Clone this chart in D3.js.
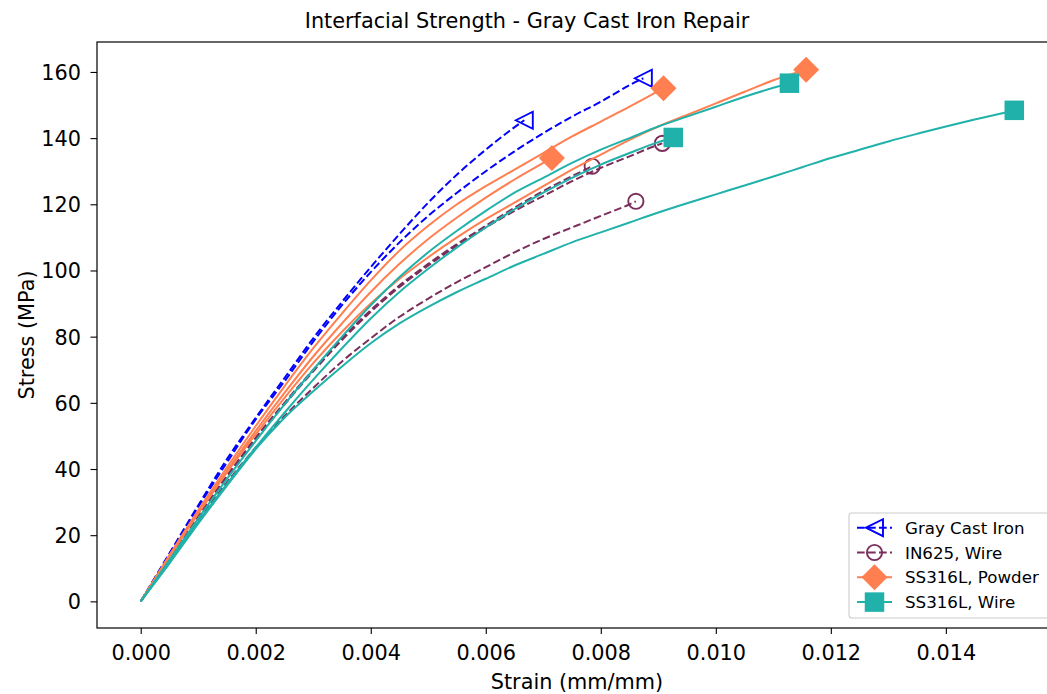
<!DOCTYPE html>
<html>
<head>
<meta charset="utf-8">
<script src="https://cdn.jsdelivr.net/npm/d3@7"></script>
<style>
  html, body { margin: 0; padding: 0; background: #fff; }
  svg { display: block; font-family: "DejaVu Sans", sans-serif; }
</style>
</head>
<body>
<svg id="chart" width="1047" height="694"></svg>
<script>
// ---------------- DATA (strain mm/mm, stress MPa) ----------------
const title = "Interfacial Strength - Gray Cast Iron Repair";
const xLabel = "Strain (mm/mm)";
const yLabel = "Stress (MPa)";
const xTicks = [0, 0.002, 0.004, 0.006, 0.008, 0.010, 0.012, 0.014];
const yTicks = [0, 20, 40, 60, 80, 100, 120, 140, 160];
const seriesNames = ["Gray Cast Iron", "IN625, Wire", "SS316L, Powder", "SS316L, Wire"];

// Gray Cast Iron
const grayCastIron1 = [[0,0],[0.0005,14.5],[0.001,29],[0.0015,43],[0.002,55.5],[0.0025,67.5],[0.003,79.5],[0.0035,90.5],[0.004,101],[0.0045,111],[0.005,120.5],[0.0055,129],[0.006,136.5],[0.0064,142],[0.00667,145.4]];
const grayCastIron2 = [[0,0],[0.0005,14.2],[0.001,28.5],[0.0015,42],[0.002,55],[0.0025,66.5],[0.003,78.5],[0.0035,89.5],[0.004,99.5],[0.0045,108.5],[0.005,116.5],[0.0055,123.5],[0.006,130],[0.0065,136],[0.007,141.5],[0.0075,146.5],[0.008,151],[0.0085,156],[0.00874,158.1]];

// IN625, Wire
const in625Wire1 = [[0,0],[0.0005,13],[0.001,26],[0.0015,38],[0.002,49.5],[0.0025,60],[0.003,70],[0.0035,79.5],[0.004,88],[0.0045,95.5],[0.005,102],[0.0055,108],[0.006,113.5],[0.0065,119],[0.007,124],[0.0075,128.5],[0.00785,131.5]];
const in625Wire2 = [[0,0],[0.0005,12.8],[0.001,25.5],[0.0015,37.5],[0.002,49],[0.0025,59.5],[0.003,69.5],[0.0035,79],[0.004,87.5],[0.0045,95],[0.005,101.5],[0.0055,107.5],[0.006,113],[0.0065,118],[0.007,122.5],[0.0075,127],[0.008,131],[0.0085,134.5],[0.009,138],[0.00907,138.4]];
const in625Wire3 = [[0,0],[0.0005,12.5],[0.001,24.5],[0.0015,36],[0.002,46.5],[0.0025,56],[0.003,64.5],[0.0035,72.5],[0.004,79.5],[0.0045,86],[0.005,91.5],[0.0055,96.5],[0.006,101],[0.0065,105.5],[0.007,109.5],[0.0075,113],[0.008,116.5],[0.0085,120],[0.00861,120.9]];

// SS316L, Powder
const ss316lPowder1 = [[0,0],[0.0005,13.5],[0.001,27],[0.0015,39.5],[0.002,51.5],[0.0025,63],[0.003,74],[0.0035,84],[0.004,93.5],[0.0045,102],[0.005,109.5],[0.0055,116],[0.006,122],[0.0065,127.5],[0.007,132.5],[0.00715,134]];
const ss316lPowder2 = [[0,0],[0.0005,14],[0.001,27.5],[0.0015,40.5],[0.002,53],[0.0025,65],[0.003,76.5],[0.0035,87],[0.004,97],[0.0045,106],[0.005,113.5],[0.0055,120],[0.006,125.5],[0.0065,130.5],[0.007,135.5],[0.0075,140.5],[0.008,145],[0.0085,149.5],[0.0088,152.3],[0.00909,155.1]];
const ss316lPowder3 = [[0,0],[0.0005,13.5],[0.001,26.5],[0.0015,39],[0.002,50.5],[0.0025,61.5],[0.003,72],[0.0035,81.5],[0.004,90],[0.0045,97.5],[0.005,104],[0.0055,110],[0.006,115.5],[0.0065,120.5],[0.007,125.5],[0.0075,130.5],[0.008,135],[0.0085,139.5],[0.009,143.5],[0.0095,147],[0.010,150.5],[0.0105,154],[0.011,157.5],[0.01157,160.7]];

// SS316L, Wire
const ss316lWire1 = [[0,0],[0.0005,12],[0.001,24],[0.0015,35.5],[0.002,46.5],[0.0025,57],[0.003,67],[0.0035,76.5],[0.004,85.5],[0.0045,93.5],[0.005,100.5],[0.0055,107],[0.006,113],[0.0065,118.5],[0.007,123.5],[0.0075,128],[0.008,132],[0.0085,135.5],[0.009,138.8],[0.00926,140.2]];
const ss316lWire2 = [[0,0],[0.0005,12.5],[0.001,25],[0.0015,37],[0.002,48.5],[0.0025,59.5],[0.003,70],[0.0035,80],[0.004,89.5],[0.0045,98],[0.005,105.5],[0.0055,112],[0.006,118],[0.0065,123.5],[0.007,128],[0.0075,132.5],[0.008,136.5],[0.0085,140],[0.009,143.5],[0.0095,146.5],[0.010,149.5],[0.0105,152.5],[0.011,155.2],[0.01128,156.6]];
const ss316lWire3 = [[0,0],[0.0005,11.5],[0.001,23.5],[0.0015,35],[0.002,46],[0.0025,55.5],[0.003,63.5],[0.0035,71],[0.004,78],[0.0045,84],[0.005,89],[0.0055,93.5],[0.006,97.5],[0.0065,101.5],[0.007,105],[0.0075,108.5],[0.008,111.5],[0.0085,114.5],[0.009,117.5],[0.0095,120.3],[0.010,123],[0.0105,125.7],[0.011,128.4],[0.0115,131.2],[0.012,134],[0.0125,136.5],[0.013,139],[0.0135,141.3],[0.014,143.5],[0.0145,145.6],[0.015,147.6],[0.01519,148.4]];

// ---------------- STYLE ----------------
const styles = {
  "Gray Cast Iron": {color: "#0000ff", dash: "7.7,3.3", marker: "triangleLeft"},
  "IN625, Wire":    {color: "#7b2d5b", dash: "7.7,3.3", marker: "circle"},
  "SS316L, Powder": {color: "#ff7f50", dash: null, marker: "diamond"},
  "SS316L, Wire":   {color: "#20b2aa", dash: null, marker: "square"}
};
const groups = [
  {name: seriesNames[0], curves: [grayCastIron1, grayCastIron2]},
  {name: seriesNames[1], curves: [in625Wire1, in625Wire2, in625Wire3]},
  {name: seriesNames[2], curves: [ss316lPowder1, ss316lPowder2, ss316lPowder3]},
  {name: seriesNames[3], curves: [ss316lWire1, ss316lWire2, ss316lWire3]}
];

(function () {
const svg = d3.select("#chart");
const pL = 97, pR = 1058, pT = 42, pB = 628;
const x = d3.scaleLinear().domain([-0.00076, 0.01595]).range([pL, pR]);
const y = d3.scaleLinear().domain([-8.05, 169.05]).range([pB, pT]);
const FS = 20.8;

function drawMarker(g, type, cx, cy, color) {
  if (type === "triangleLeft") {
    g.append("path").attr("d", `M${cx-8.5},${cy} L${cx+8.5},${cy-8.5} L${cx+8.5},${cy+8.5} Z`)
      .attr("fill", "none").attr("stroke", color).attr("stroke-width", 1.9).attr("stroke-linejoin", "miter");
  } else if (type === "circle") {
    g.append("circle").attr("cx", cx).attr("cy", cy).attr("r", 7.6)
      .attr("fill", "none").attr("stroke", color).attr("stroke-width", 1.9);
  } else if (type === "diamond") {
    const h = 13;
    g.append("path").attr("d", `M${cx},${cy-h} L${cx+h},${cy} L${cx},${cy+h} L${cx-h},${cy} Z`)
      .attr("fill", color).attr("stroke", "none");
  } else if (type === "square") {
    const s = 19.5;
    g.append("rect").attr("x", cx - s/2).attr("y", cy - s/2).attr("width", s).attr("height", s)
      .attr("fill", color);
  }
}

svg.append("defs").append("clipPath").attr("id", "clip")
  .append("rect").attr("x", pL).attr("y", pT).attr("width", pR-pL).attr("height", pB-pT);

const plot = svg.append("g").attr("clip-path", "url(#clip)");
const line = d3.line().x(d => x(d[0])).y(d => y(d[1])).curve(d3.curveMonotoneX);

groups.forEach(gr => {
  const st = styles[gr.name];
  gr.curves.forEach(c => {
    const p = plot.append("path").datum(c).attr("d", line)
      .attr("fill", "none").attr("stroke", st.color).attr("stroke-width", 2)
      .attr("stroke-linejoin", "round");
    if (st.dash) p.attr("stroke-dasharray", st.dash);
    const last = c[c.length - 1];
    drawMarker(plot, st.marker, x(last[0]), y(last[1]), st.color);
  });
});

const xAxis = d3.axisBottom(x).tickValues(xTicks).tickFormat(d3.format(".3f")).tickSize(6).tickPadding(0);
const yAxis = d3.axisLeft(y).tickValues(yTicks).tickFormat(d3.format("d")).tickSize(6.5).tickPadding(0);

const gx = svg.append("g").attr("transform", `translate(0,${pB})`).call(xAxis);
gx.select(".domain").remove();
gx.selectAll(".tick line").attr("stroke", "#000").attr("stroke-width", 1.1);
gx.selectAll(".tick text").attr("font-size", FS).attr("font-family", "DejaVu Sans").attr("fill", "#000")
  .attr("y", 32).attr("dy", null);

const gy = svg.append("g").attr("transform", `translate(${pL},0)`).call(yAxis);
gy.select(".domain").remove();
gy.selectAll(".tick line").attr("stroke", "#000").attr("stroke-width", 1.1);
gy.selectAll(".tick text").attr("font-size", FS).attr("font-family", "DejaVu Sans").attr("fill", "#000")
  .attr("x", -16).attr("dy", "0.36em");

svg.append("rect").attr("x", pL).attr("y", pT).attr("width", pR-pL).attr("height", pB-pT)
  .attr("fill", "none").attr("stroke", "#000").attr("stroke-width", 1.2);

svg.append("text").attr("x", 527).attr("y", 28).attr("text-anchor", "middle")
  .attr("font-size", FS).attr("fill", "#000").text(title);
svg.append("text").attr("x", 577).attr("y", 689).attr("text-anchor", "middle")
  .attr("font-size", FS).attr("fill", "#000").text(xLabel);
svg.append("text").attr("transform", `translate(34,${(pT+pB)/2}) rotate(-90)`).attr("text-anchor", "middle")
  .attr("font-size", FS).attr("fill", "#000").text(yLabel);

const lg = svg.append("g");
lg.append("rect").attr("x", 849).attr("y", 513).attr("width", 200).attr("height", 105).attr("rx", 3)
  .attr("fill", "#fff").attr("fill-opacity", 0.8).attr("stroke", "#cccccc").attr("stroke-width", 1.1);
seriesNames.forEach((name, i) => {
  const st = styles[name];
  const cy = 527.7 + i * 24.8;
  const l = lg.append("line").attr("x1", 857).attr("x2", 892).attr("y1", cy).attr("y2", cy)
    .attr("stroke", st.color).attr("stroke-width", 2);
  if (st.dash) l.attr("stroke-dasharray", st.dash);
  drawMarker(lg, st.marker, 874.5, cy, st.color);
  lg.append("text").attr("x", 905).attr("y", cy + 6).attr("font-size", 16.67).attr("fill", "#000").text(name);
});
})();
</script>
</body>
</html>
